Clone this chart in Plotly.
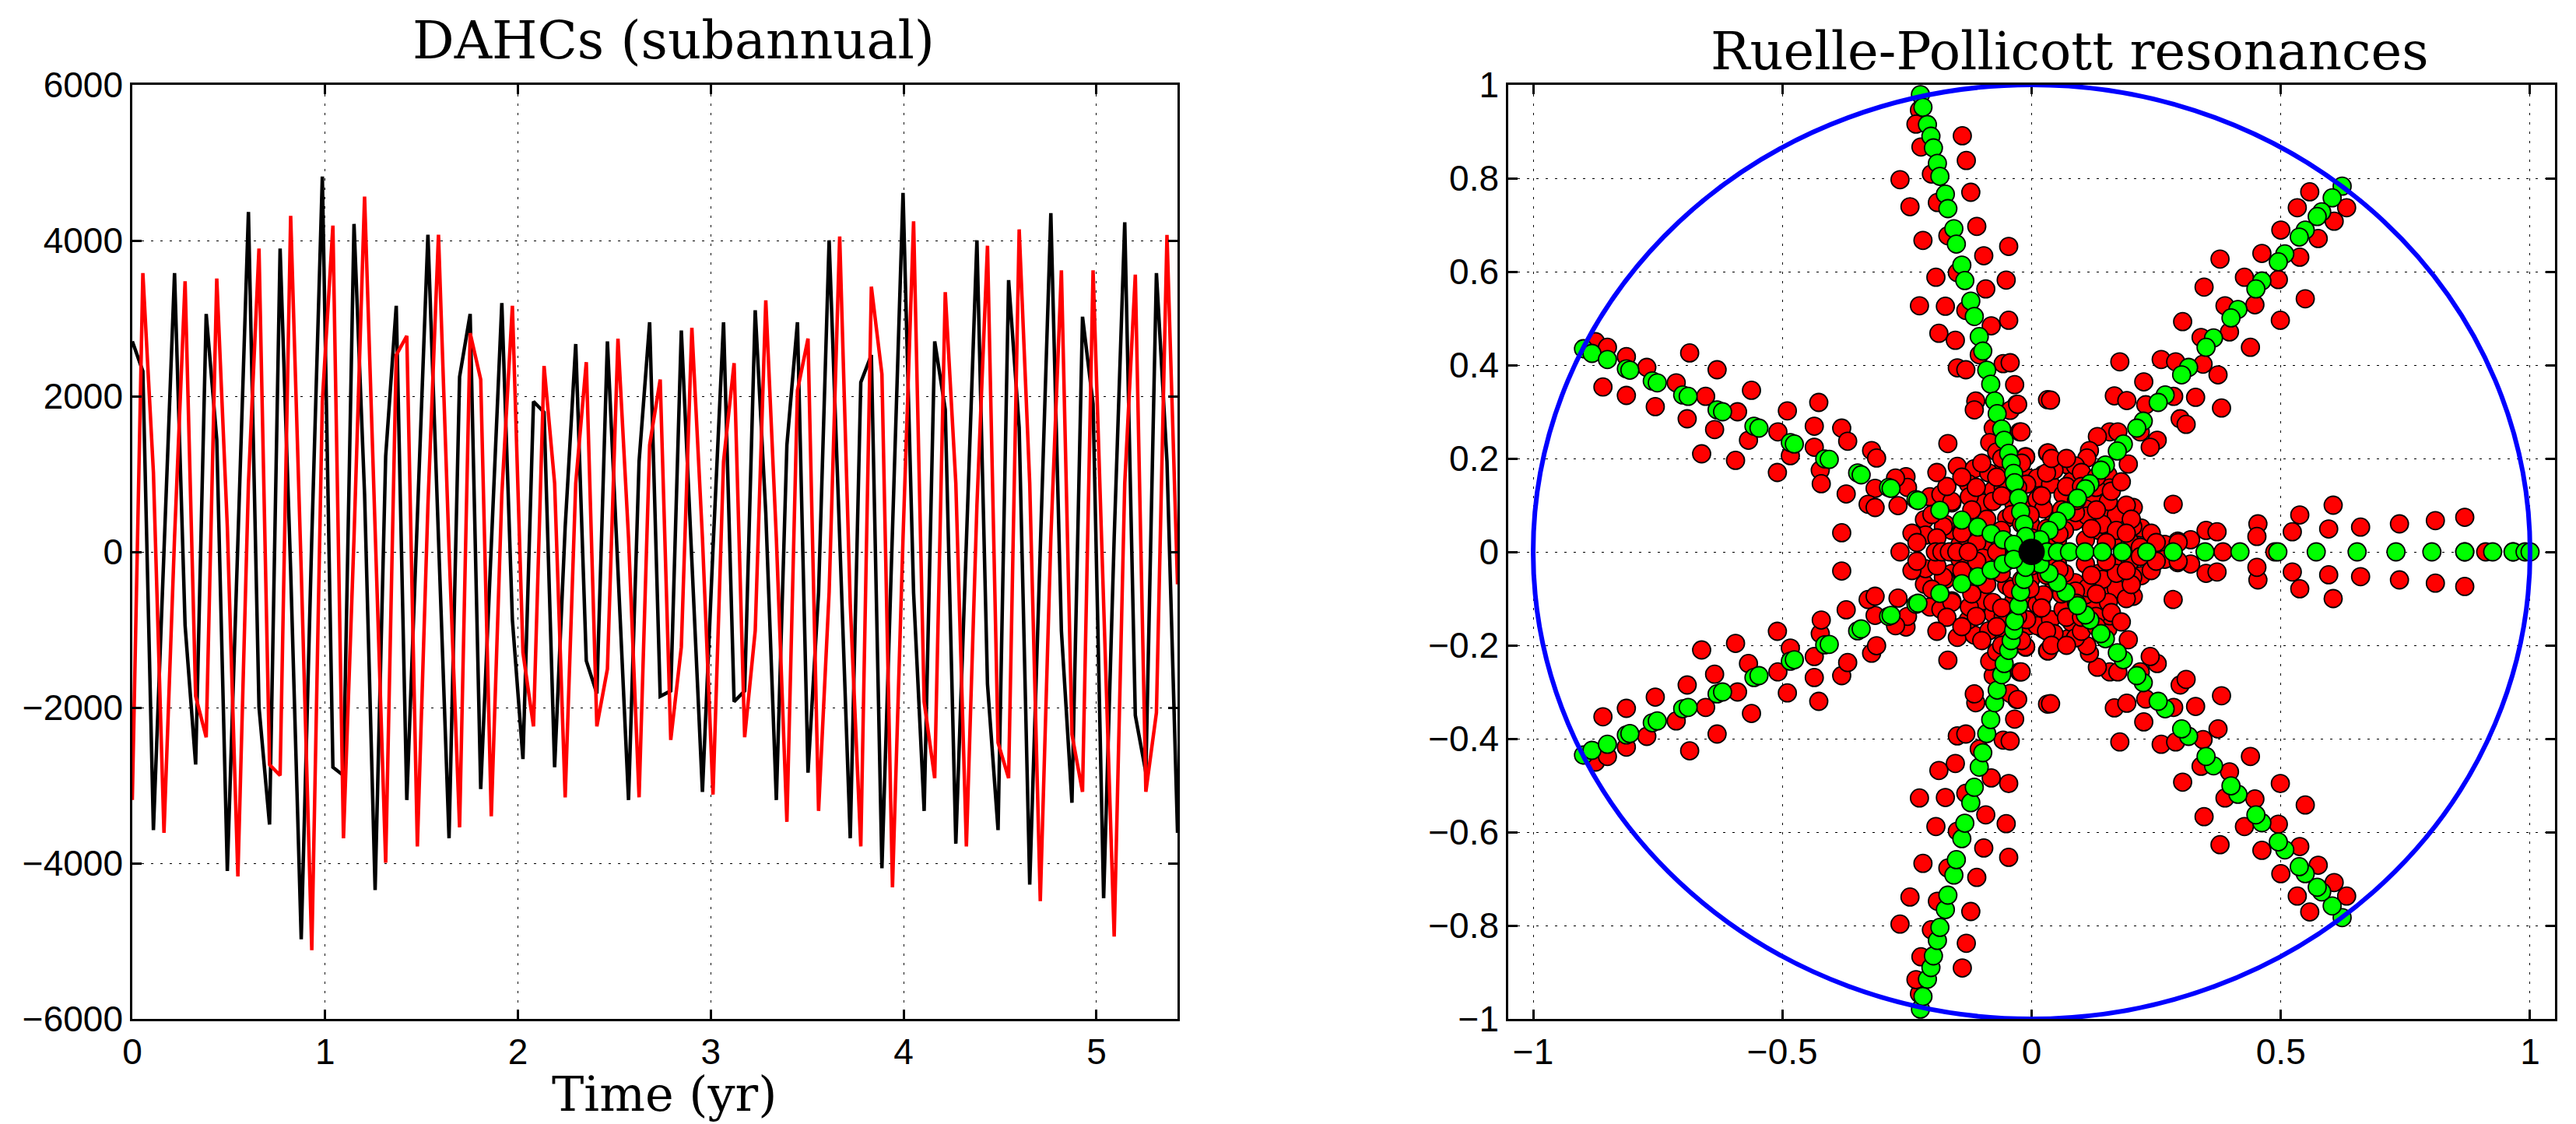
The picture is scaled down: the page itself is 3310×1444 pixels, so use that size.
import plotly.graph_objects as go
from plotly.subplots import make_subplots

# --- left panel: DAHC time series, one sample every ~20 days ---
DT = 0.05475  # yr between samples

dahc_black = [2705, 2320, -3574, 40, 3582, -943, -2732, 3056, 1442, -4100,
              100, 4367, -1995, -3503, 3897, -240, -4977, 180, 4823, -2767,
              -2872, 4213, 740, -4345, 1232, 3161, -3188, 320, 4073, 180,
              -3679, 2249, 3056, -3047, 40, 3196, -873, -2662, 1933, 1793,
              -2767, 320, 2670, -1399, -1820, 2705, -240, -3188, 1162, 2950,
              -1855, -1785, 2845, -101, -3083, 40, 2950, -1925, -1785, 3105,
              500, -3188, 1372, 2950, -2837, -522, 4003, 180, -3679, 2179,
              2530, -4065, 180, 4613, -522, -3328, 2705, 1830, -3749, 180,
              4003, -1700, -3574, 3491, 1600, -4275, 180, 4353, -1013, -3223,
              3021, 1900, -4450, 180, 4234, -2100, -2837, 3582, 1162, -3609]

dahc_red = [-3188, 3582, 1021, -3609, 180, 3477, -1855, -2381, 3512, 320,
            -4170, 880, 3897, -2732, -2872, 4318, -240, -5117, 1933, 4192,
            -3679, 180, 4564, 180, -3994, 2529, 2775, -3784, 600, 4073,
            40, -3539, 2810, 2214, -3398, 740, 3161, -1294, -2241, 2389,
            881, -3153, 881, 2438, -2241, -1504, 2740, 180, -3153, 1372,
            2214, -2416, -1224, 2880, 180, -3118, 1162, 2424, -2381, -1013,
            3231, 180, -3468, 2073, 2740, -3328, -522, 4052, -662, -3784,
            3407, 2284, -4310, 180, 4248, -1925, -2907, 3336, 881, -3784,
            600, 3933, -2451, -2907, 4143, 881, -4486, 180, 3617, -2346,
            -3083, 3617, -522, -4941, 881, 3561, -3083, -2065, 4073, -417]

time_ticks = [0, 1, 2, 3, 4, 5]
dahc_ticks = [-6000, -4000, -2000, 0, 2000, 4000, 6000]
dahc_labels = ['\u22126000', '\u22124000', '\u22122000', '0', '2000', '4000', '6000']

# --- right panel: resonances, upper half plane (conjugates mirrored below) ---
red_x = [-0.139, -0.131, -0.264, -0.122, -0.244, -0.189, -0.110, -0.218, -0.168, -0.046,
         -0.096, -0.192, -0.051, -0.149, -0.092, -0.225, -0.173, -0.132, -0.046, -0.081,
         -0.186, -0.153, -0.105, -0.149, -0.132, -0.057, -0.043, -0.034, -0.112, -0.115,
         -0.030, -0.043, 0.032, -0.077, -0.024, -0.084, -0.070, -0.012, 0.032, -0.168,
         -0.149, -0.115, -0.127, -0.057, -0.005, -0.225, -0.232, -0.222, -0.201,
         -0.875, -0.851, -0.813, -0.772, -0.713, -0.654, -0.590, -0.509, -0.436, -0.381,
         -0.369, -0.436, -0.321, -0.311, -0.252, -0.249, -0.273, -0.314, -0.328, -0.314,
         -0.268, -0.182, -0.204, -0.215, -0.213, -0.381, -0.686, -0.631, -0.562, -0.490,
         -0.427, -0.860, -0.813, -0.755, -0.691, -0.636, -0.568, -0.662, -0.594, -0.510,
         -0.484, -0.424, -0.422, -0.372,
         -0.132, -0.160, -0.139, -0.112, -0.098, -0.077, -0.057, -0.036, -0.015, 0.005,
         0.023, -0.002, -0.084, -0.118, -0.173, -0.160, -0.125, -0.050, -0.098, 0.019,
         0.558, 0.533, 0.632, 0.607, 0.500, 0.575, 0.462, 0.538, 0.378, 0.427,
         0.495, 0.346, 0.549, 0.388, 0.448, 0.303, 0.499, 0.340, 0.397, 0.439,
         0.260, 0.289, 0.344, 0.177, 0.374, 0.225, 0.329, 0.285, 0.166, 0.191,
         0.229, 0.038, 0.381, 0.298, 0.310, 0.218, 0.252, 0.238, 0.157, 0.173,
         0.132, 0.116, 0.111, 0.194, 0.153, 0.033, -0.012, 0.073, 0.157, -0.021,
         -0.028,
         0.605, 0.869, 0.810, 0.738, 0.660, 0.596, 0.538, 0.523, 0.454, 0.452,
         0.284, 0.204, 0.220, 0.350, 0.372, 0.319, 0.293, 0.267,
         0.011, -0.010, 0.038, 0.080, 0.045, 0.128, 0.149, 0.170, 0.108, 0.087,
         0.066, 0.045, 0.011, 0.024, -0.003, 0.135, 0.163, 0.198, 0.108, 0.142,
         0.052, 0.218, 0.294, -0.182, -0.160, -0.111, -0.086, -0.078, -0.127, -0.177,
         0.088, 0.129, 0.154, 0.170, 0.112, 0.063, -0.028, 0.030, 0.088, 0.203,
         -0.061, 0.055, -0.144,
         -0.190, -0.200, -0.170, -0.140, -0.100, -0.060, -0.020, 0.040, 0.070, 0.100,
         0.130, 0.160, 0.190, 0.200, 0.190, 0.150, 0.120, 0.090, 0.060, 0.030,
         -0.040, -0.060, -0.090, -0.120, -0.140, -0.110, -0.050, 0.020, 0.130, 0.180,
         -0.190, 0.240, 0.250, -0.240, -0.230, 0.000, -0.020, 0.070, 0.100, -0.070]
red_y = [0.891, 0.838, 0.797, 0.770, 0.739, 0.748, 0.697, 0.667, 0.677, 0.654,
         0.634, 0.588, 0.582, 0.598, 0.563, 0.527, 0.526, 0.517, 0.496, 0.484,
         0.468, 0.453, 0.422, 0.394, 0.390, 0.403, 0.405, 0.358, 0.323, 0.304,
         0.316, 0.303, 0.326, 0.265, 0.257, 0.234, 0.214, 0.204, 0.212, 0.232,
         0.183, 0.178, 0.146, 0.178, 0.158, 0.946, 0.916, 0.867, 0.809,
         0.450, 0.438, 0.418, 0.395, 0.362, 0.333, 0.300, 0.257, 0.269, 0.265,
         0.237, 0.224, 0.217, 0.201, 0.161, 0.138, 0.158, 0.136, 0.102, 0.095,
         0.099, 0.122, 0.118, 0.069, 0.036, 0.041, 0.426, 0.390, 0.346, 0.302,
         0.320, 0.353, 0.335, 0.311, 0.285, 0.262, 0.239, 0.210, 0.196, 0.170,
         0.206, 0.175, 0.146, 0.124,
         0.006, 0.046, 0.066, 0.079, 0.105, 0.132, 0.138, 0.105, 0.092, 0.145,
         0.165, 0.059, 0.039, 0.026, 0.059, 0.105, 0.118, 0.072, 0.013, 0.105,
         0.771, 0.737, 0.737, 0.708, 0.689, 0.671, 0.639, 0.631, 0.627, 0.588,
         0.583, 0.567, 0.542, 0.527, 0.529, 0.493, 0.496, 0.459, 0.471, 0.438,
         0.412, 0.407, 0.402, 0.407, 0.379, 0.364, 0.331, 0.333, 0.334, 0.324,
         0.315, 0.325, 0.308, 0.285, 0.273, 0.257, 0.239, 0.224, 0.257, 0.257,
         0.247, 0.217, 0.201, 0.188, 0.165, 0.212, 0.203, 0.186, 0.137, 0.257,
         0.316,
         0.100, 0.074, 0.067, 0.060, 0.053, 0.049, 0.079, 0.043, 0.060, 0.033,
         0.102, 0.095, 0.051, 0.046, 0.043, 0.026, 0.023, 0.016,
         0.158, 0.145, 0.145, 0.151, 0.175, 0.112, 0.086, 0.079, 0.092, 0.066,
         0.046, 0.066, 0.112, 0.092, 0.079, 0.046, 0.026, 0.020, 0.026, 0.059,
         0.026, 0.010, 0.020, 0.123, 0.108, 0.138, 0.169, 0.108, 0.061, 0.054,
         0.184, 0.138, 0.108, 0.046, 0.077, 0.123, 0.138, 0.169, 0.084, 0.054,
         0.046, 0.038, 0.015,
         0.030, 0.080, 0.140, 0.160, 0.190, 0.200, 0.190, 0.200, 0.200, 0.170,
         0.160, 0.130, 0.100, 0.070, 0.040, 0.020, 0.050, 0.110, 0.090, 0.050,
         0.080, 0.120, 0.070, 0.090, 0.040, 0.020, 0.020, 0.120, 0.090, 0.150,
         0.170, 0.040, 0.020, 0.040, 0.020, 0.030, 0.060, 0.140, 0.140, 0.160]
red_real = [-0.264, -0.193, -0.180, -0.165, -0.150, -0.127, -0.070,
            0.384, 0.488, 0.869, 0.911, 0.966]

green_x = [0.623, 0.603, 0.582, 0.573, 0.549, 0.537, 0.508, 0.495, 0.462, 0.450,
           0.414, 0.400, 0.365, 0.350, 0.315, 0.301, 0.268, 0.254, 0.224, 0.211,
           0.184, 0.172, 0.148, 0.139, 0.117, 0.108, 0.092, 0.069, 0.052, 0.035, 0.017,
           -0.223, -0.218, -0.209, -0.202, -0.197, -0.189, -0.184, -0.173, -0.168, -0.156,
           -0.151, -0.140, -0.134, -0.122, -0.115, -0.105, -0.098, -0.090, -0.082, -0.074,
           -0.069, -0.060, -0.055, -0.046, -0.041, -0.036, -0.034, -0.026, -0.022, -0.015, -0.012,
           -0.899, -0.882, -0.851, -0.813, -0.806, -0.761, -0.751, -0.700, -0.689, -0.631,
           -0.620, -0.557, -0.547, -0.484, -0.476, -0.415, -0.406, -0.349, -0.342, -0.287,
           -0.282, -0.232, -0.228, -0.184, -0.140, -0.108, -0.081, -0.057, -0.036]
green_y = [0.783, 0.758, 0.728, 0.718, 0.689, 0.674, 0.638, 0.621, 0.580, 0.563,
           0.519, 0.501, 0.458, 0.438, 0.395, 0.379, 0.336, 0.320, 0.280, 0.265,
           0.231, 0.216, 0.186, 0.175, 0.146, 0.135, 0.115, 0.087, 0.066, 0.046, 0.026,
           0.979, 0.952, 0.915, 0.890, 0.865, 0.832, 0.804, 0.766, 0.735, 0.692,
           0.659, 0.614, 0.581, 0.537, 0.504, 0.461, 0.430, 0.389, 0.359, 0.323,
           0.296, 0.263, 0.239, 0.211, 0.190, 0.168, 0.148, 0.115, 0.086, 0.059, 0.033,
           0.435, 0.425, 0.412, 0.392, 0.389, 0.366, 0.362, 0.336, 0.333, 0.304,
           0.300, 0.269, 0.265, 0.234, 0.231, 0.199, 0.198, 0.169, 0.165, 0.138,
           0.136, 0.112, 0.110, 0.089, 0.068, 0.053, 0.039, 0.026, 0.016]
green_real = [0.031, 0.052, 0.076, 0.107, 0.142, 0.182, 0.231, 0.284, 0.348, 0.418,
              0.494, 0.571, 0.653, 0.731, 0.803, 0.869, 0.925, 0.966, 0.990, 1.0]

# the many resonances collapsed at the origin
origin_x = [0.0]
origin_y = [0.0]

re_ticks = [-1, -0.5, 0, 0.5, 1]
re_labels = ['\u22121', '\u22120.5', '0', '0.5', '1']
im_ticks = [-1, -0.8, -0.6, -0.4, -0.2, 0, 0.2, 0.4, 0.6, 0.8, 1]
im_labels = ['\u22121', '\u22120.8', '\u22120.6', '\u22120.4', '\u22120.2', '0',
             '0.2', '0.4', '0.6', '0.8', '1']


def mirror(xs, ys, real):
    """upper half + complex conjugates + points on the real axis"""
    x = xs + xs + real
    y = ys + [-v for v in ys] + [0.0] * len(real)
    return x, y


fig = make_subplots(rows=1, cols=2)

fig.add_trace(go.Scatter(y=dahc_black, x0=0, dx=DT, mode='lines',
                         line=dict(color='black', width=4.5)), 1, 1)
fig.add_trace(go.Scatter(y=dahc_red, x0=0, dx=DT, mode='lines',
                         line=dict(color='red', width=4.5)), 1, 1)

rx, ry = mirror(red_x, red_y, red_real)
gx, gy = mirror(green_x, green_y, green_real)
fig.add_trace(go.Scatter(x=rx, y=ry, mode='markers',
                         marker=dict(color='#ff0000', size=23,
                                     line=dict(color='black', width=1.8))), 1, 2)
fig.add_trace(go.Scatter(x=gx, y=gy, mode='markers',
                         marker=dict(color='#00ff00', size=23,
                                     line=dict(color='black', width=1.8))), 1, 2)
fig.add_trace(go.Scatter(x=origin_x, y=origin_y, mode='markers',
                         marker=dict(color='black', size=34)), 1, 2)

# unit circle
fig.add_shape(type='circle', xref='x2', yref='y2', x0=-1, y0=-1, x1=1, y1=1,
              line=dict(color='#0000ff', width=6), layer='above')

axis_style = dict(showline=True, linecolor='black', linewidth=2.5, mirror='ticks',
                  ticks='inside', ticklen=12, tickwidth=2.5, tickcolor='black',
                  showgrid=True, gridcolor='black', gridwidth=1, griddash='3px,9px',
                  zeroline=False, automargin=False,
                  tickfont=dict(family='Liberation Sans, Arial, sans-serif',
                                size=46, color='black'))

W, H = 3310, 1444
fig.update_xaxes(axis_style)
fig.update_yaxes(axis_style)
fig.update_xaxes(domain=[170 / W, 1513 / W], range=[0, 5.42],
                 tickvals=time_ticks, row=1, col=1)
fig.update_yaxes(domain=[1 - 1309 / H, 1 - 109 / H], range=[-6000, 6000],
                 tickvals=dahc_ticks, ticktext=dahc_labels, row=1, col=1)
fig.update_xaxes(domain=[1938 / W, 3283 / W], range=[-1.05, 1.05],
                 tickvals=re_ticks, ticktext=re_labels, row=1, col=2)
fig.update_yaxes(domain=[1 - 1309 / H, 1 - 109 / H], range=[-1, 1],
                 tickvals=im_ticks, ticktext=im_labels, row=1, col=2)

serif = dict(family='DejaVu Serif', size=67, color='black')
fig.add_annotation(text='DAHCs (subannual)', x=865 / W, y=1 - 52 / H, xref='paper',
                   yref='paper', showarrow=False, font=serif,
                   xanchor='center', yanchor='middle')
fig.add_annotation(text='Ruelle-Pollicott resonances', x=2659 / W, y=1 - 66 / H,
                   xref='paper', yref='paper', showarrow=False, font=serif,
                   xanchor='center', yanchor='middle')
fig.add_annotation(text='Time (yr)', x=853 / W, y=1 - 1405 / H, xref='paper',
                   yref='paper', showarrow=False,
                   font=dict(family='DejaVu Serif', size=62, color='black'),
                   xanchor='center', yanchor='middle')

fig.update_layout(template='none', width=W, height=H,
                  margin=dict(l=0, r=0, t=0, b=0, autoexpand=False),
                  plot_bgcolor='white', paper_bgcolor='white', showlegend=False,
                  font=dict(family='Liberation Sans, Arial, sans-serif', size=46,
                            color='black'))

fig.write_html("out.html", config={'displayModeBar': False},
               post_script="document.body.style.margin='0';")
